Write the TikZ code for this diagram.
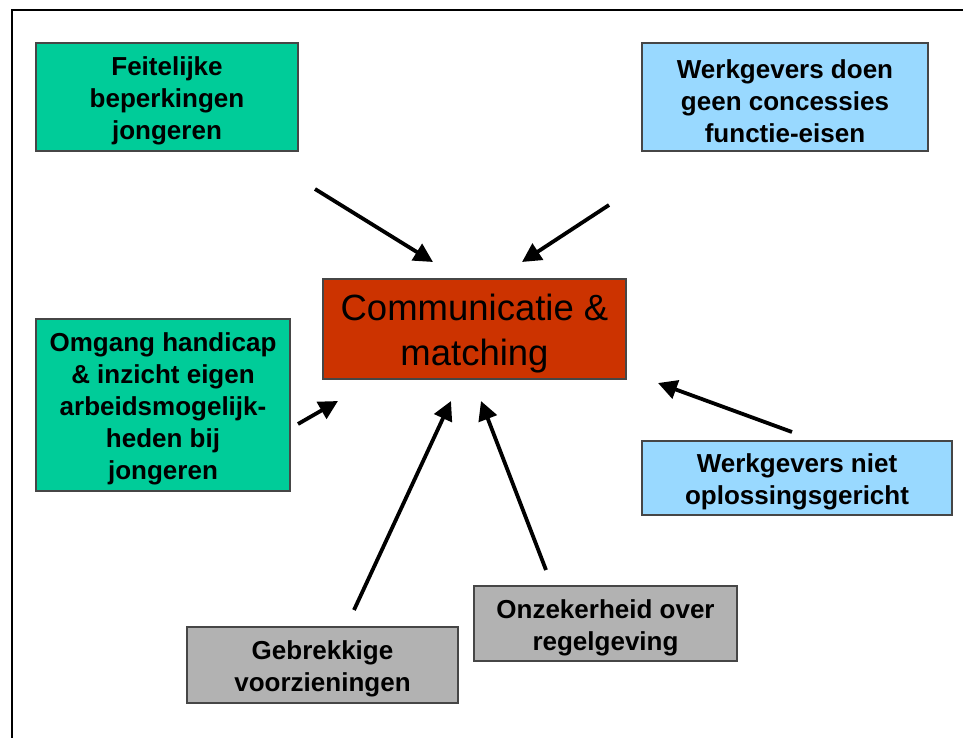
\documentclass[tikz,border=0pt]{standalone}
\usepackage{fontspec}
\setmainfont{Liberation Sans}
\usetikzlibrary{arrows.meta}
\definecolor{cgreen}{RGB}{0,204,153}
\definecolor{cblue}{RGB}{153,217,255}
\definecolor{cred}{RGB}{204,51,0}
\definecolor{cgrey}{RGB}{178,178,178}
\definecolor{cborder}{RGB}{70,70,70}
\tikzset{
  box/.style={draw=cborder, line width=1.3pt, inner sep=0pt},
  boxtext/.style={inner sep=0pt, align=center, yshift=-4pt,
    font=\bfseries\fontsize{26}{32}\selectfont},
  maintext/.style={inner sep=0pt, align=center, yshift=-5pt,
    font=\fontsize{36.5}{45}\selectfont},
  arr/.style={line width=3.8pt, -{Triangle[length=19pt,width=19pt]}},
  frame/.style={line width=2.5pt}
}
\begin{document}
\begin{tikzpicture}[x=1pt,y=-1pt]
\useasboundingbox (0,0) rectangle (963,738);
% frame
\coordinate (fbl) at (12,738);
\coordinate (ftl) at (12,10);
\coordinate (ftr) at (963,10);
\draw[frame] (fbl) -- (ftl) -- (ftr);
% boxes
\node[box, fill=cgreen, minimum width=262pt, minimum height=108pt,
  label={[boxtext]center:Feitelijke\\beperkingen\\jongeren}] (feit) at (167,97) {};
\node[box, fill=cblue, minimum width=286pt, minimum height=108pt,
  label={[boxtext]center:Werkgevers doen\\geen concessies\\functie-eisen}] (wdoen) at (785,97) {};
\node[box, fill=cred, minimum width=303pt, minimum height=100pt,
  label={[maintext]center:Communicatie \&\\matching}] (main) at (474.5,329) {};
\node[box, fill=cgreen, minimum width=254pt, minimum height=172pt,
  label={[boxtext]center:Omgang handicap\\\& inzicht eigen\\arbeidsmogelijk-\\heden bij\\jongeren}] (omgang) at (163,405) {};
\node[box, fill=cblue, minimum width=310pt, minimum height=74pt,
  label={[boxtext]center:Werkgevers niet\\oplossingsgericht}] (wniet) at (797,478) {};
\node[box, fill=cgrey, minimum width=263pt, minimum height=75pt,
  label={[boxtext]center:Onzekerheid over\\regelgeving}] (onz) at (605.5,623.5) {};
\node[box, fill=cgrey, minimum width=271pt, minimum height=76pt,
  label={[boxtext]center:Gebrekkige\\voorzieningen}] (gebr) at (322.5,665) {};
% arrow end points
\coordinate (a1s) at (315,189); \coordinate (a1e) at (433,262);
\coordinate (a2s) at (609,205); \coordinate (a2e) at (522,262);
\coordinate (a3s) at (298,424); \coordinate (a3e) at (338,401);
\coordinate (a4s) at (792,432); \coordinate (a4e) at (658,383);
\coordinate (a5s) at (354,610); \coordinate (a5e) at (451,401);
\coordinate (a6s) at (546,570); \coordinate (a6e) at (481,401);
\draw[arr] (a1s) -- (a1e);
\draw[arr] (a2s) -- (a2e);
\draw[arr] (a3s) -- (a3e);
\draw[arr] (a4s) -- (a4e);
\draw[arr] (a5s) -- (a5e);
\draw[arr] (a6s) -- (a6e);
\end{tikzpicture}
\end{document}
